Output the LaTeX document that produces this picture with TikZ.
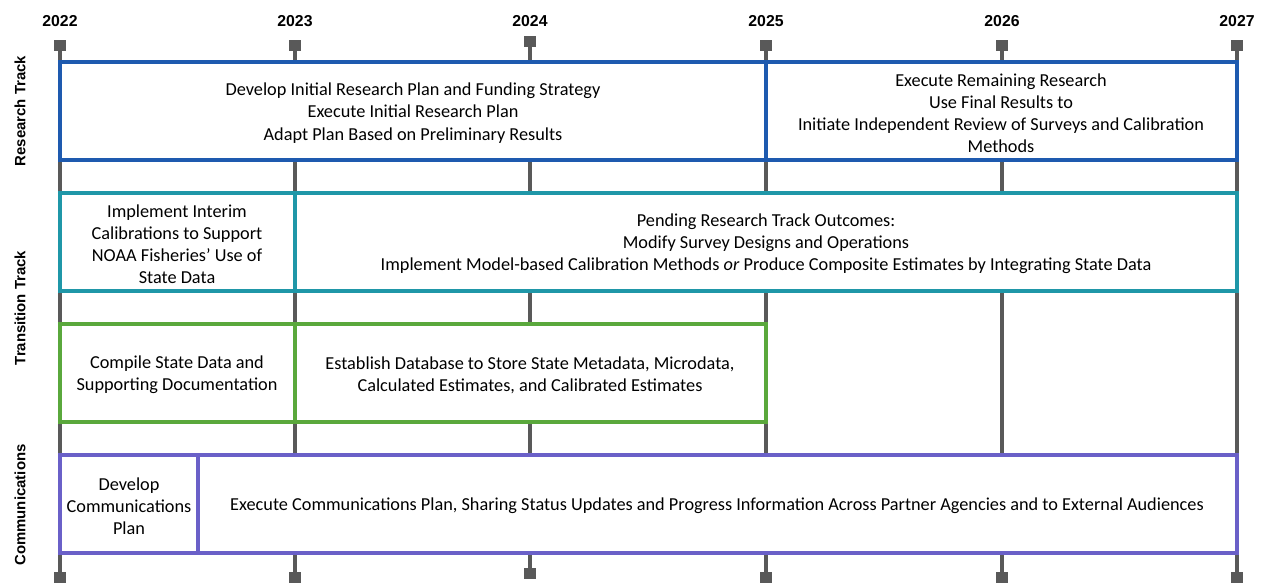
\documentclass[tikz,border=0pt]{standalone}
\usepackage{fontspec}
\setmainfont{Carlito}
\newfontfamily\yearfont{Liberation Sans}
\usetikzlibrary{positioning}

\definecolor{gridgray}{HTML}{595959}
\definecolor{resblue}{HTML}{1E5AAF}
\definecolor{transteal}{HTML}{1F97A8}
\definecolor{datagreen}{HTML}{5AA83C}
\definecolor{commpurple}{HTML}{6A60C8}

\tikzset{
	yearlabel/.style={font=\yearfont\bfseries\fontsize{9}{10}\selectfont},
	tracklabel/.style={font=\yearfont\bfseries\fontsize{8.5}{10}\selectfont, rotate=90},
	boxtext/.style={align=center, font=\fontsize{10.4}{12.6}\selectfont, inner sep=0pt},
	taskbox/.style={line width=2pt, fill=white}
}

\begin{document}
\begin{tikzpicture}[x=0.02cm, y=-0.02cm]
	\useasboundingbox (0,0) rectangle (1265,583);

% year grid lines and markers
	\foreach \yr/\xx/\dy in {2022/60/0, 2023/295/0, 2024/530/-4, 2025/766/0, 2026/1002/0, 2027/1237/0} {
		\draw[gridgray, line width=1.9pt] (\xx,45+\dy) -- (\xx,573+\dy);
		\fill[gridgray] (\xx-6,40+\dy) rectangle (\xx+6,51+\dy);
		\fill[gridgray] (\xx-6,572+\dy) rectangle (\xx+6,583+\dy);
		\node[yearlabel] (y\yr) at (\xx,21) {\yr};
	}

% track labels
	\node[tracklabel] (research) at (20,111) {Research Track};
	\node[tracklabel] (transition) at (20,308) {Transition Track};
	\node[tracklabel] (comms) at (20,505) {Communications};

% research track
	\draw[taskbox, draw=resblue] (60,62) rectangle (766,160);
	\draw[taskbox, draw=resblue] (766,62) rectangle (1237,160);
	\node[boxtext] (r1) at (413,113) {Develop Initial Research Plan and Funding Strategy\\Execute Initial Research Plan\\Adapt Plan Based on Preliminary Results};
	\node[boxtext] (r2) at (1001,113) {Execute Remaining Research\\Use Final Results to\\Initiate Independent Review of Surveys and Calibration\\Methods};

% transition track
	\draw[taskbox, draw=transteal] (60,193) rectangle (295,291);
	\draw[taskbox, draw=transteal] (295,193) rectangle (1237,291);
	\node[boxtext] (t1) at (177,244) {Implement Interim\\Calibrations to Support\\NOAA Fisheries’ Use of\\State Data};
	\node[boxtext] (t2) at (766,244) {Pending Research Track Outcomes:\\Modify Survey Designs and Operations\\Implement Model-based Calibration Methods \emph{or} Produce Composite Estimates by Integrating State Data};

	\draw[taskbox, draw=datagreen] (60,324) rectangle (295,422);
	\draw[taskbox, draw=datagreen] (295,324) rectangle (766,422);
	\node[boxtext] (d1) at (177,375) {Compile State Data and\\Supporting Documentation};
	\node[boxtext] (d2) at (530,375) {Establish Database to Store State Metadata, Microdata,\\Calculated Estimates, and Calibrated Estimates};

% communications
	\draw[taskbox, draw=commpurple] (60,455) rectangle (198,553);
	\draw[taskbox, draw=commpurple] (198,455) rectangle (1237,553);
	\node[boxtext] (c1) at (129,506) {Develop\\Communications\\Plan};
	\node[boxtext] (c2) at (717,506) {Execute Communications Plan, Sharing Status Updates and Progress Information Across Partner Agencies and to External Audiences};

\end{tikzpicture}
\end{document}
